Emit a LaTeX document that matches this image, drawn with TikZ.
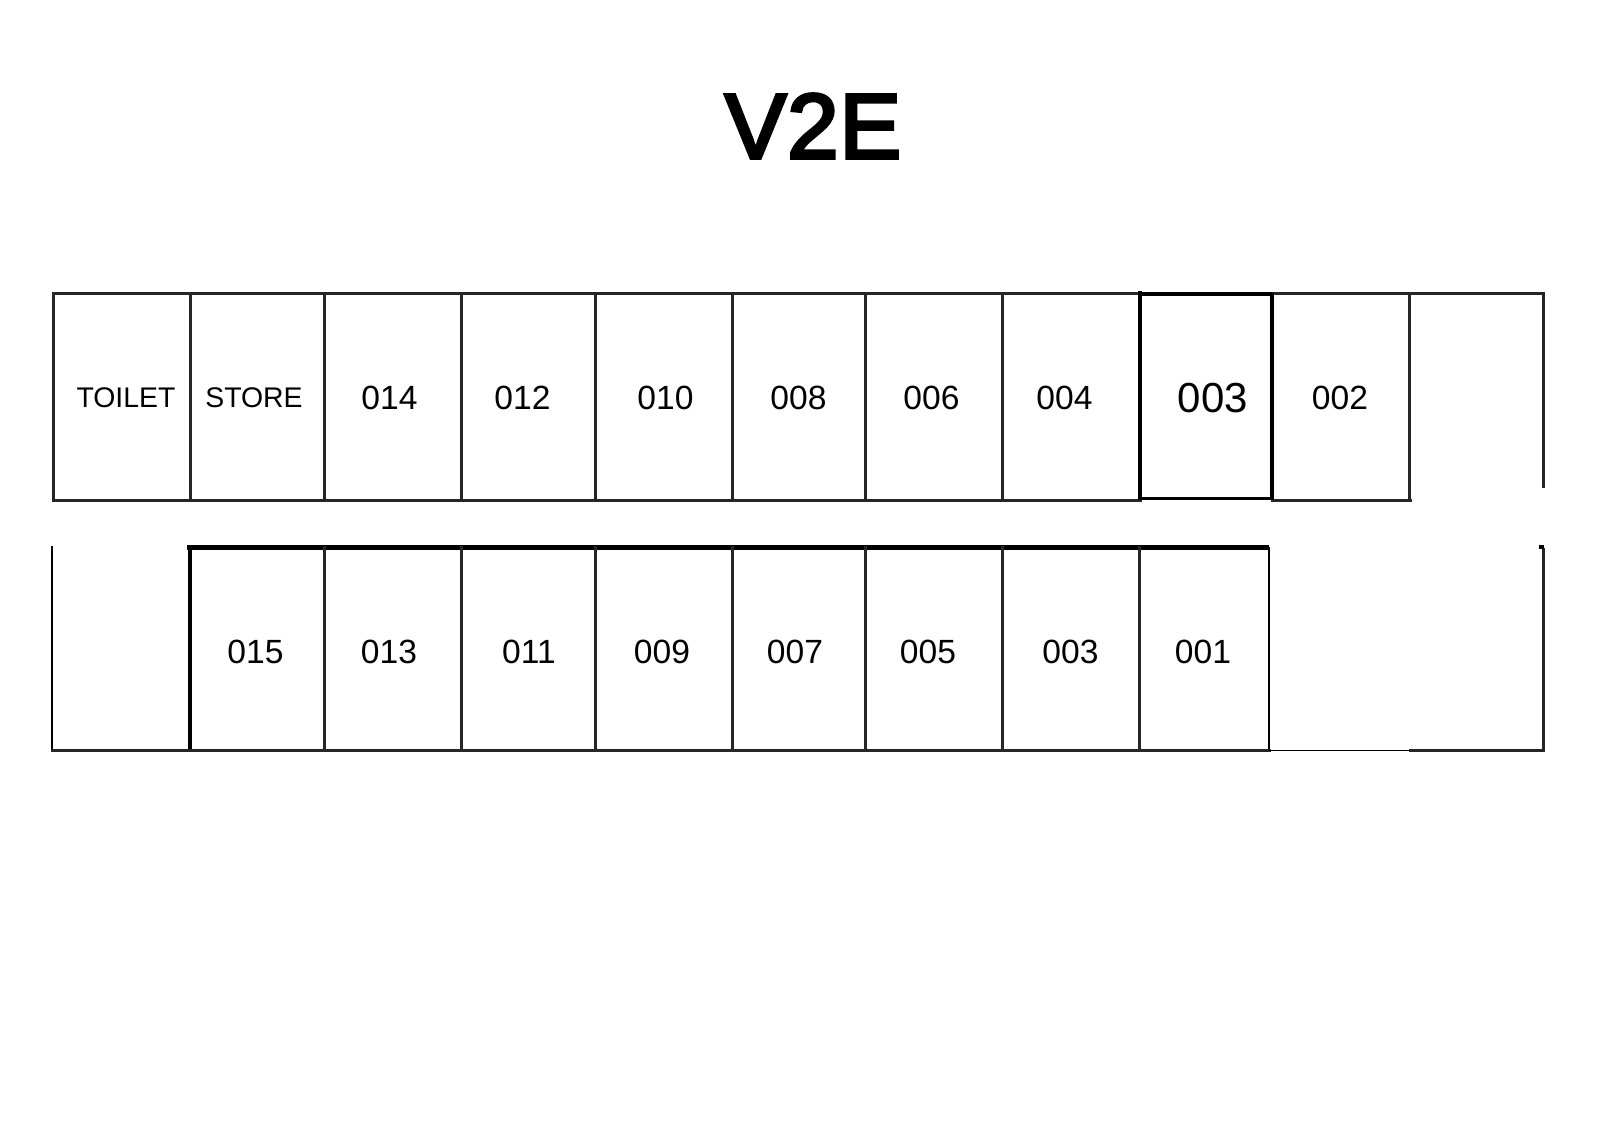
\documentclass[tikz,border=0pt]{standalone}
\usepackage{fontspec}
\setmainfont{Liberation Sans}
\newfontfamily\titlefont[FakeBold=3.8,LetterSpace=1.2]{Liberation Sans}
\tikzset{
  wall/.style={draw=black!85,line width=1.5pt,line cap=rect},
  wallthin/.style={draw=black,line width=1.1pt},
  wallfine/.style={draw=black,line width=0.8pt},
  wallthick/.style={draw=black,line width=2.1pt},
  num/.style={inner sep=0pt,font=\fontsize{16.8}{20}\selectfont},
  caps/.style={inner sep=0pt,font=\fontsize{14.2}{18}\selectfont},
  big/.style={inner sep=0pt,font=\fontsize{21}{25}\selectfont},
  ttl/.style={inner sep=0pt,font=\fontsize{46}{52}\titlefont}
}
\begin{document}
\begin{tikzpicture}[x=0.5pt,y=-0.5pt]
\useasboundingbox[fill=white] (0,0) rectangle (1600,1131);
\node[ttl] (title) at (813,126) {V2E};
% upper row
\draw[wall] (53,293) -- (1140,293);
\draw[wall] (1272,293) -- (1542,293);
\draw[wallthick,line width=1.8pt] (1140,294) -- (1272,294);
\draw[wall] (53,500) -- (1140,500);
\draw[wallthick,line width=1.6pt] (1140,498.5) -- (1272,498.5);
\draw[wall] (1272,500) -- (1410,500);
\foreach \x in {53,190.5,324.5,461,595,732,865.5,1002,1409}
  \draw[wall] (\x,293) -- (\x,500);
\draw[wallthick] (1140,291) -- (1140,500);
\draw[wallthick] (1272,293) -- (1272,500);
\draw[wall] (1543,293) -- (1543,486);
% lower row
\draw[wallthick,line width=2.6pt] (187,547.5) -- (1269,547.5);
\draw[wallthin] (52,546) -- (52,750);
\draw[wallthick] (190,547) -- (190,750);
\foreach \x in {324.5,461,595,732,865.5,1002,1139}
  \draw[wall] (\x,547) -- (\x,750);
\draw[wallthin] (1269,547) -- (1269,750);
\draw[wall] (52,750.5) -- (1269,750.5);
\draw[wallfine] (1269,750.5) -- (1410,750.5);
\draw[wall] (1410,750.5) -- (1543,750.5);
\draw[wall] (1543,549) -- (1543,750.5);
\draw[wallthick] (1541.5,545) -- (1541.5,549);
% labels, upper row
\node[caps] (toilet) at (126,397.5) {TOILET};
\node[caps] (store) at (254,397.5) {STORE};
\node[num] (u014) at (389.5,397.5) {014};
\node[num] (u012) at (522.5,397.5) {012};
\node[num] (u010) at (665.5,397.5) {010};
\node[num] (u008) at (798.5,397.5) {008};
\node[num] (u006) at (931.5,397.5) {006};
\node[num] (u004) at (1064.5,397.5) {004};
\node[big] (u003) at (1213,398) {003};
\node[num] (u002) at (1340,397.5) {002};
% labels, lower row
\node[num] (l015) at (255.5,652) {015};
\node[num] (l013) at (389,652) {013};
\node[num] (l011) at (529,652) {011};
\node[num] (l009) at (662,652) {009};
\node[num] (l007) at (795,652) {007};
\node[num] (l005) at (928,652) {005};
\node[num] (l003) at (1070.5,652) {003};
\node[num] (l001) at (1203,652) {001};
\end{tikzpicture}
\end{document}
